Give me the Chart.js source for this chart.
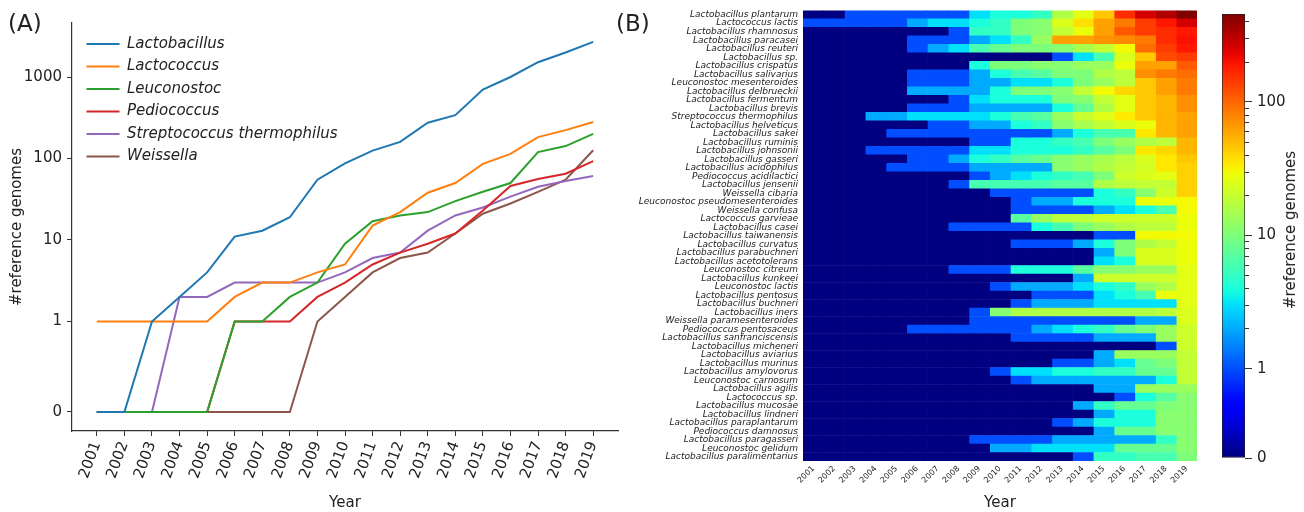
<!DOCTYPE html>
<html>
<head>
<meta charset="utf-8">
<script src="https://cdn.jsdelivr.net/npm/chart.js"></script>
<style>
html, body { margin: 0; padding: 0; background: #fff; }
#wrap { position: relative; width: 1304px; height: 512px; overflow: hidden; font-family: "DejaVu Sans", sans-serif; color: #222; }
.box { position: absolute; top: 0; height: 512px; }
#lineBox { left: 0; width: 632px; }
#heatBox { left: 625px; width: 580px; }
#cbarBox { left: 1205px; width: 99px; }
.panel { position: absolute; font-size: 23px; line-height: 1; }
#cbTitle { position: absolute; left: 1290px; top: 230px; font-size: 15px; white-space: nowrap; transform: translate(-50%, -50%) rotate(-90deg); }
</style>
</head>
<body>
<div id="wrap">
  <div class="box" id="lineBox"><canvas id="lineChart"></canvas></div>
  <div class="box" id="heatBox"><canvas id="heatChart"></canvas></div>
  <div class="box" id="cbarBox"><canvas id="cbarChart"></canvas></div>
  <div class="panel" style="left:8px;top:12px;">(A)</div>
  <div class="panel" style="left:616px;top:12px;">(B)</div>
  <div id="cbTitle">#reference genomes</div>
</div>
<script>
// ---- data ----
const years = [2001,2002,2003,2004,2005,2006,2007,2008,2009,2010,2011,2012,2013,2014,2015,2016,2017,2018,2019];

// panel A: genomes per genus
const lactobacillus = [0,0,1,2,4,11,13,19,55,87,125,160,275,340,700,1000,1520,2000,2700];
const lactococcus   = [1,1,1,1,1,2,3,3,4,5,15,22,38,50,86,114,183,223,280];
const leuconostoc   = [0,0,0,0,0,1,1,2,3,9,17,20,22,30,39,50,120,142,200];
const pediococcus   = [0,0,0,0,0,1,1,1,2,3,5,7,9,12,23,46,56,65,93];
const streptococcus = [0,0,0,2,2,3,3,3,3,4,6,7,13,20,25,34,45,53,61];
const weissella     = [0,0,0,0,0,0,0,0,1,2,4,6,7,12,21,28,39,55,126];
const lineTicks = [0,1,10,100,1000];

// panel B: genomes per species
const species = [
  'Lactobacillus plantarum','Lactococcus lactis','Lactobacillus rhamnosus','Lactobacillus paracasei',
  'Lactobacillus reuteri','Lactobacillus sp.','Lactobacillus crispatus','Lactobacillus salivarius',
  'Leuconostoc mesenteroides','Lactobacillus delbrueckii','Lactobacillus fermentum','Lactobacillus brevis',
  'Streptococcus thermophilus','Lactobacillus helveticus','Lactobacillus sakei','Lactobacillus ruminis',
  'Lactobacillus johnsonii','Lactobacillus gasseri','Lactobacillus acidophilus','Pediococcus acidilactici',
  'Lactobacillus jensenii','Weissella cibaria','Leuconostoc pseudomesenteroides','Weissella confusa',
  'Lactococcus garvieae','Lactobacillus casei','Lactobacillus taiwanensis','Lactobacillus curvatus',
  'Lactobacillus parabuchneri','Lactobacillus acetotolerans','Leuconostoc citreum','Lactobacillus kunkeei',
  'Leuconostoc lactis','Lactobacillus pentosus','Lactobacillus buchneri','Lactobacillus iners',
  'Weissella paramesenteroides','Pediococcus pentosaceus','Lactobacillus sanfranciscensis','Lactobacillus micheneri',
  'Lactobacillus aviarius','Lactobacillus murinus','Lactobacillus amylovorus','Leuconostoc carnosum',
  'Lactobacillus agilis','Lactococcus sp.','Lactobacillus mucosae','Lactobacillus lindneri',
  'Lactobacillus paraplantarum','Pediococcus damnosus','Lactobacillus paragasseri','Leuconostoc gelidum',
  'Lactobacillus paralimentarius'
];
const heatValues = [
  [0,0,1,1,1,1,1,1,3,4,4,5,16,26,45,160,260,330,455],
  [1,1,1,1,1,2,3,3,4,5,10,11,24,37,62,85,140,190,260],
  [0,0,0,0,0,0,0,1,5,5,10,11,19,28,62,110,140,160,190],
  [0,0,0,0,0,1,1,1,2,3,5,13,62,62,70,75,85,160,200],
  [0,0,0,0,0,1,2,3,6,8,10,10,11,15,19,30,95,140,190],
  [0,0,0,0,0,0,0,0,0,0,0,0,1,3,6,24,45,125,140],
  [0,0,0,0,0,0,0,0,4,10,10,11,11,13,13,28,62,62,110],
  [0,0,0,0,0,1,1,1,2,4,6,7,10,10,16,18,72,85,95],
  [0,0,0,0,0,1,1,1,2,2,3,3,4,10,13,18,45,62,85],
  [0,0,0,0,0,2,2,2,2,4,10,10,11,19,30,40,45,62,85],
  [0,0,0,0,0,0,0,1,3,4,4,4,10,11,19,26,45,52,72],
  [0,0,0,0,0,1,1,1,2,2,2,2,4,8,16,26,45,52,72],
  [0,0,0,2,2,3,3,3,3,4,6,7,13,20,25,34,45,53,61],
  [0,0,0,0,0,0,1,1,2,2,4,5,11,15,19,24,28,52,62],
  [0,0,0,0,1,1,1,1,1,1,1,1,2,4,6,6,35,52,62],
  [0,0,0,0,0,0,0,0,1,1,4,4,5,6,10,13,16,18,52],
  [0,0,0,1,1,1,1,1,3,3,4,4,4,5,7,10,35,40,52],
  [0,0,0,0,0,1,1,2,4,5,7,8,11,13,15,18,24,35,45],
  [0,0,0,0,1,1,1,1,2,2,2,2,11,13,16,19,22,35,42],
  [0,0,0,0,0,0,0,0,1,2,3,4,5,6,10,21,24,26,42],
  [0,0,0,0,0,0,0,1,6,6,6,6,7,7,16,18,19,19,42],
  [0,0,0,0,0,0,0,0,0,1,1,1,1,1,4,5,11,21,42],
  [0,0,0,0,0,0,0,0,0,0,1,2,2,4,4,4,28,28,30],
  [0,0,0,0,0,0,0,0,0,0,1,1,1,1,2,3,4,6,30],
  [0,0,0,0,0,0,0,0,0,0,7,13,18,18,21,21,21,21,28],
  [0,0,0,0,0,0,0,1,1,1,1,4,6,10,13,16,18,18,28],
  [0,0,0,0,0,0,0,0,0,0,0,0,0,0,1,1,30,30,30],
  [0,0,0,0,0,0,0,0,0,0,1,1,1,2,4,10,16,19,28],
  [0,0,0,0,0,0,0,0,0,0,0,0,0,0,2,10,24,24,28],
  [0,0,0,0,0,0,0,0,0,0,0,0,0,0,3,4,24,24,28],
  [0,0,0,0,0,0,0,1,1,1,4,4,4,7,11,11,13,13,26],
  [0,0,0,0,0,0,0,0,0,0,0,0,0,2,21,21,21,21,26],
  [0,0,0,0,0,0,0,0,0,1,2,2,2,3,4,5,13,16,26],
  [0,0,0,0,0,0,0,0,0,0,0,1,1,1,3,4,6,28,26],
  [0,0,0,0,0,0,0,0,0,0,1,2,2,2,3,3,3,3,26],
  [0,0,0,0,0,0,0,0,1,11,16,16,16,16,16,16,16,18,24],
  [0,0,0,0,0,0,0,0,1,1,1,1,1,1,1,1,2,2,24],
  [0,0,0,0,0,1,1,1,1,1,1,2,3,4,5,8,10,13,21],
  [0,0,0,0,0,0,0,0,0,0,1,1,1,1,2,2,2,13,21],
  [0,0,0,0,0,0,0,0,0,0,0,0,0,0,0,0,0,1,21],
  [0,0,0,0,0,0,0,0,0,0,0,0,0,0,2,13,13,13,19],
  [0,0,0,0,0,0,0,0,0,0,0,0,1,1,2,3,8,10,19],
  [0,0,0,0,0,0,0,0,0,1,3,3,4,4,5,5,8,8,19],
  [0,0,0,0,0,0,0,0,0,0,1,2,2,2,2,2,2,4,19],
  [0,0,0,0,0,0,0,0,0,0,0,0,0,0,2,2,13,13,13],
  [0,0,0,0,0,0,0,0,0,0,0,0,0,0,0,1,4,7,11],
  [0,0,0,0,0,0,0,0,0,0,0,0,0,2,5,8,8,10,11],
  [0,0,0,0,0,0,0,0,0,0,0,0,0,0,2,4,4,11,11],
  [0,0,0,0,0,0,0,0,0,0,0,0,1,2,4,4,4,11,11],
  [0,0,0,0,0,0,0,0,0,0,0,0,0,0,2,8,8,11,11],
  [0,0,0,0,0,0,0,0,1,1,1,1,2,2,2,2,2,5,11],
  [0,0,0,0,0,0,0,0,0,2,2,3,3,3,3,8,8,8,11],
  [0,0,0,0,0,0,0,0,0,0,0,0,0,1,5,5,6,6,10]
];
const cbarMajor = [0,1,10,100];
const cbarMinor = [2,3,4,5,6,7,8,9,20,30,40,50,60,70,80,90,200,300,400];

// ---- helpers ----
const FONT = "'DejaVu Sans', sans-serif";
Chart.defaults.font.family = FONT;
Chart.defaults.color = '#222';
Chart.defaults.animation = false;

function symT(v, c) {
  const a = Math.abs(v);
  return a <= 1 ? v * c : Math.sign(v) * (c + Math.log10(a));
}

// symmetric log scale (linear between -1 and 1)
class SymlogScale extends Chart.LinearScale {
  buildTicks() {
    return this.options.tickValues.filter(v => v >= this.min && v <= this.max).map(v => ({value: v}));
  }
  configure() {
    super.configure();
    this._t0 = symT(this.min, this.options.linscale);
    this._t1 = symT(this.max, this.options.linscale);
  }
  getPixelForValue(v) {
    return this.getPixelForDecimal((symT(v, this.options.linscale) - this._t0) / (this._t1 - this._t0));
  }
  getValueForPixel(p) {
    const c = this.options.linscale;
    const t = this._t0 + this.getDecimalForPixel(p) * (this._t1 - this._t0);
    return Math.abs(t) <= c ? t / c : Math.sign(t) * Math.pow(10, Math.abs(t) - c);
  }
}
SymlogScale.id = 'symlog';
SymlogScale.defaults = {linscale: 1, tickValues: []};
Chart.register(SymlogScale);

// matplotlib jet
const jetR = [[0,0],[0.35,0],[0.66,1],[0.89,1],[1,0.5]];
const jetG = [[0,0],[0.125,0],[0.375,1],[0.64,1],[0.91,0],[1,0]];
const jetB = [[0,0.5],[0.11,1],[0.34,1],[0.65,0],[1,0]];
function interp(pts, t) {
  for (let k = 1; k < pts.length; k++) {
    if (t <= pts[k][0]) {
      const [x0, y0] = pts[k-1], [x1, y1] = pts[k];
      return y0 + (y1 - y0) * (t - x0) / (x1 - x0);
    }
  }
  return pts[pts.length-1][1];
}
function jetCss(t) {
  t = Math.max(0, Math.min(1, t));
  return 'rgb(' + Math.round(255*interp(jetR,t)) + ',' + Math.round(255*interp(jetG,t)) + ',' + Math.round(255*interp(jetB,t)) + ')';
}
const cbarLin = 0.67;
const heatMax = Math.max(...heatValues.flat());
function heatColour(v) { return jetCss(symT(v, cbarLin) / symT(heatMax, cbarLin)); }

// ---- panel A ----
const genera = [
  ['Lactobacillus', lactobacillus, '#1f77b4'],
  ['Lactococcus', lactococcus, '#ff7f0e'],
  ['Leuconostoc', leuconostoc, '#2ca02c'],
  ['Pediococcus', pediococcus, '#d62728'],
  ['Streptococcus thermophilus', streptococcus, '#9467bd'],
  ['Weissella', weissella, '#8c564b']
];

// legend sits inside the axes, a little off the corner
const legendInset = {
  id: 'legendInset',
  afterLayout(chart) {
    const lg = chart.legend;
    lg.left = chart.chartArea.left + 7;
    lg.top = chart.chartArea.top + 6;
  }
};

new Chart(document.getElementById('lineChart'), {
  type: 'line',
  data: {
    datasets: genera.map(g => ({
      label: g[0],
      data: years.map((yr, i) => ({x: yr, y: g[1][i]})),
      borderColor: g[2],
      backgroundColor: g[2],
      borderWidth: 2,
      pointRadius: 0,
      tension: 0
    }))
  },
  plugins: [legendInset],
  options: {
    responsive: true,
    maintainAspectRatio: false,
    events: [],
    layout: {padding: {top: 23, right: 14, left: 0, bottom: 0}},
    plugins: {
      tooltip: {enabled: false},
      legend: {
        position: 'chartArea',
        align: 'start',
        labels: {
          usePointStyle: true,
          pointStyle: 'line',
          pointStyleWidth: 33,
          padding: 7.5,
          color: '#222',
          font: {size: 15, style: 'italic'}
        }
      }
    },
    scales: {
      x: {
        type: 'linear',
        min: 2000.1,
        max: 2019.9,
        afterBuildTicks: s => { s.ticks = years.map(v => ({value: v})); },
        afterFit: s => { s.height = 81; },
        ticks: {font: {size: 15}, minRotation: 70, maxRotation: 70, autoSkip: false, padding: 3, callback: v => String(v)},
        grid: {drawOnChartArea: false, tickLength: 5, color: '#333'},
        border: {color: '#333', width: 1.2},
        title: {display: true, text: 'Year', font: {size: 15}, padding: {top: 0, bottom: 0}}
      },
      y: {
        type: 'symlog',
        linscale: 1 / 0.9,
        tickValues: lineTicks,
        min: -0.21,
        max: 4600,
        afterFit: s => { s.width = 72; },
        ticks: {font: {size: 15}, padding: 5, callback: v => String(v)},
        grid: {drawOnChartArea: false, tickLength: 5, color: '#333'},
        border: {color: '#333', width: 1.2},
        title: {display: true, text: '#reference genomes', font: {size: 15}, padding: {top: 8, bottom: 0}}
      }
    }
  }
});

// ---- panel B heatmap ----
new Chart(document.getElementById('heatChart'), {
  type: 'bar',
  data: {
    labels: species,
    datasets: years.map((yr, j) => ({
      label: String(yr),
      data: species.map(() => [yr - 0.5, yr + 0.5]),
      backgroundColor: heatValues.map(row => heatColour(row[j])),
      borderWidth: 0,
      grouped: false,
      barPercentage: 1,
      categoryPercentage: 1
    }))
  },
  options: {
    indexAxis: 'y',
    responsive: true,
    maintainAspectRatio: false,
    events: [],
    layout: {padding: {top: 3, right: 8, left: 0, bottom: 0}},
    plugins: {legend: {display: false}, tooltip: {enabled: false}},
    scales: {
      x: {
        type: 'linear',
        min: 2000.5,
        max: 2019.5,
        afterBuildTicks: s => { s.ticks = years.map(v => ({value: v})); },
        afterFit: s => { s.height = 51; },
        ticks: {font: {size: 8}, minRotation: 45, maxRotation: 45, autoSkip: false, padding: 3, callback: v => String(v)},
        grid: {display: false, drawTicks: false},
        border: {display: false},
        title: {display: true, text: 'Year', font: {size: 15}, padding: {top: 0, bottom: 0}}
      },
      y: {
        afterFit: s => { s.width = 178; },
        ticks: {font: {size: 9, style: 'italic'}, autoSkip: false, padding: 5},
        grid: {display: false, drawTicks: false},
        border: {display: false}
      }
    }
  }
});

// ---- colour bar ----
const minorTicks = {
  id: 'minorTicks',
  afterDraw(chart) {
    const s = chart.scales.y;
    const ctx = chart.ctx;
    ctx.save();
    ctx.strokeStyle = '#333';
    ctx.lineWidth = 1;
    cbarMinor.forEach(v => {
      const y = Math.round(s.getPixelForValue(v)) + 0.5;
      ctx.beginPath();
      ctx.moveTo(s.left, y);
      ctx.lineTo(s.left + 4, y);
      ctx.stroke();
    });
    ctx.restore();
  }
};

new Chart(document.getElementById('cbarChart'), {
  type: 'bar',
  data: {
    labels: [''],
    datasets: [{
      data: [[0, heatMax]],
      backgroundColor: c => {
        const area = c.chart.chartArea;
        if (!area) return null;
        const g = c.chart.ctx.createLinearGradient(0, area.bottom, 0, area.top);
        for (let k = 0; k <= 60; k++) g.addColorStop(k / 60, jetCss(k / 60));
        return g;
      },
      borderColor: '#222',
      borderWidth: 1,
      borderSkipped: false,
      barPercentage: 1,
      categoryPercentage: 1
    }]
  },
  plugins: [minorTicks],
  options: {
    responsive: true,
    maintainAspectRatio: false,
    events: [],
    layout: {padding: {top: 3, left: 17, right: 0, bottom: 54}},
    plugins: {legend: {display: false}, tooltip: {enabled: false}},
    scales: {
      x: {display: false},
      y: {
        type: 'symlog',
        position: 'right',
        linscale: cbarLin,
        tickValues: cbarMajor,
        min: 0,
        max: heatMax,
        afterFit: s => { s.width = 59; },
        ticks: {font: {size: 15}, padding: 5, callback: v => String(v)},
        grid: {drawOnChartArea: false, tickLength: 7, color: '#333'},
        border: {display: false}
      }
    }
  }
});
</script>
</body>
</html>
